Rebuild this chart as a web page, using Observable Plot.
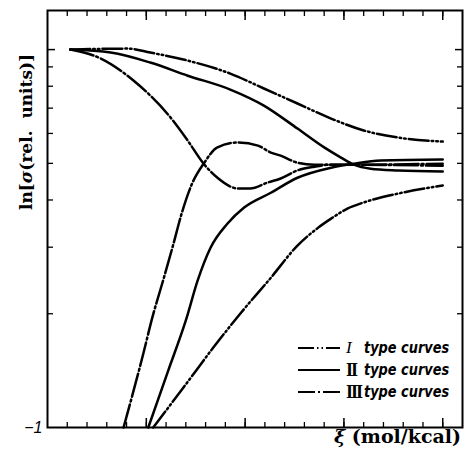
<!DOCTYPE html>
<html>
<head>
<meta charset="utf-8">
<script src="https://cdn.jsdelivr.net/npm/d3@7"></script>
<script src="https://cdn.jsdelivr.net/npm/@observablehq/plot@0.6"></script>
<style>
  body { margin: 0; background: #fff; }
  #wrap { position: relative; width: 464px; height: 453px; overflow: hidden; background: #fff; }
  #wrap svg { display: block; }
  .ylab { position: absolute; left: 26px; top: 132px; transform: translate(-50%, -50%) rotate(-90deg);
          font: bold 17px "DejaVu Serif", serif; white-space: nowrap; color: #000; }
  .xlab { position: absolute; right: 3px; top: 425px; font: bold 19px "DejaVu Serif", serif; white-space: nowrap; color: #000; }
  .legend { position: absolute; left: 298px; top: 337px; font-family: "DejaVu Sans", sans-serif; color: #000; }
  .row { display: flex; align-items: center; height: 22px; }
  .row svg { width: 42px; height: 8px; flex: none; }
  .num { font: italic 17px "Liberation Serif", serif; width: 18px; flex: none; text-align: left; margin-left: 6px; overflow: visible; }
  .num.b { font: bold 18px "Liberation Serif", serif; letter-spacing: -2px; }
  .txt { display: inline-block; font-style: italic; font-weight: bold; font-size: 15px; white-space: nowrap;
         transform: scaleX(0.86); transform-origin: left center; }
</style>
</head>
<body>
<div id="wrap"></div>
<script>
// ξ (mol/kcal) and ln σ readings (plotted on a log axis, tick units 1…10) for each curve
const typeI_upper_xi  = [0.23, 0.81, 1.04, 1.42, 1.85, 2.19, 2.53, 2.87, 3.20, 3.55, 4.0];
const typeI_upper_s   = [10.0, 10.06, 9.82, 9.35, 8.64, 7.89, 7.20, 6.57, 6.11, 5.85, 5.71];
const typeI_lower_xi  = [1.07, 1.38, 1.68, 1.95, 2.26, 2.53, 2.74, 2.87, 3.04, 3.20, 3.55, 4.0];
const typeI_lower_s   = [1.0, 1.28, 1.63, 2.00, 2.49, 3.03, 3.38, 3.57, 3.80, 3.94, 4.16, 4.37];

const typeII_upper_xi = [0.23, 0.64, 1.04, 1.42, 1.85, 2.19, 2.53, 2.80, 2.97, 3.10, 3.27, 3.55, 4.0];
const typeII_upper_s  = [10.0, 9.82, 9.24, 8.53, 7.84, 7.11, 6.18, 5.51, 5.18, 4.96, 4.84, 4.79, 4.76];
const typeII_lower_xi = [1.02, 1.22, 1.40, 1.52, 1.65, 1.82, 1.99, 2.26, 2.53, 2.87, 3.10, 3.37, 4.0];
const typeII_lower_s  = [1.0, 1.41, 1.92, 2.45, 2.99, 3.46, 3.82, 4.18, 4.58, 4.87, 4.99, 5.09, 5.12];

const typeIII_upper_xi = [0.23, 0.54, 0.87, 1.27, 1.42, 1.58, 1.72, 1.93, 2.05, 2.23, 2.36, 2.53, 2.70, 2.87, 4.0];
const typeIII_upper_s  = [10.0, 9.47, 8.28, 6.49, 5.74, 4.99, 4.58, 4.29, 4.29, 4.45, 4.56, 4.79, 4.90, 4.96, 4.93];
const typeIII_lower_xi = [0.77, 0.97, 1.06, 1.17, 1.27, 1.36, 1.46, 1.58, 1.72, 1.93, 2.13, 2.26, 2.36, 2.53, 2.70, 3.07, 4.0];
const typeIII_lower_s  = [1.0, 1.57, 1.95, 2.45, 3.03, 3.70, 4.40, 4.99, 5.51, 5.68, 5.57, 5.34, 5.24, 5.02, 4.96, 4.96, 4.99];

// axis ticks
const xMajorTicks = [1, 2, 3, 4];
const xMinorTicks = d3.range(1, 21).map(i => i / 5);
const yMinorTicks = [2, 3, 4, 5, 6, 7, 8, 9];
const yMajorTicks = [10];
const yLabelTicks = [1];
const yTickLabels = {1: "−1"};

const rows = (name, xs, ys) => xs.map((xi, i) => ({curve: name, xi, s: ys[i]}));
const curvesI   = [...rows("I-upper", typeI_upper_xi, typeI_upper_s), ...rows("I-lower", typeI_lower_xi, typeI_lower_s)];
const curvesII  = [...rows("II-upper", typeII_upper_xi, typeII_upper_s), ...rows("II-lower", typeII_lower_xi, typeII_lower_s)];
const curvesIII = [...rows("III-upper", typeIII_upper_xi, typeIII_upper_s), ...rows("III-lower", typeIII_lower_xi, typeIII_lower_s)];

const dashI = "20,3,1.6,3,1.6,3";
const dashIII = "24,3,2,3";
const legendDash = {I: "16,3,1.5,3,1.5,3", II: null, III: "17,3,2,3"};
const lineOpts = {x: "xi", y: "s", z: "curve", stroke: "#000", strokeWidth: 2.5, curve: "monotone-x"};
const blank = () => "";

const chart = Plot.plot({
  width: 464,
  height: 453,
  marginLeft: 47,
  marginRight: 2,
  marginTop: 10,
  marginBottom: 26,
  style: {background: "#fff", color: "#000"},
  x: {domain: [0, 4.2]},
  y: {type: "log", domain: [1, 12.69]},
  marks: [
    Plot.frame({stroke: "#000", strokeWidth: 2}),
    // inward ticks, bottom and top
    Plot.axisX({anchor: "bottom", ticks: xMinorTicks, tickSize: -5, tickFormat: blank, label: null, strokeWidth: 1.3}),
    Plot.axisX({anchor: "bottom", ticks: xMajorTicks, tickSize: -9, tickFormat: blank, label: null, strokeWidth: 1.5}),
    Plot.axisX({anchor: "top", ticks: xMinorTicks, tickSize: -5, tickFormat: blank, label: null, strokeWidth: 1.3}),
    Plot.axisX({anchor: "top", ticks: xMajorTicks, tickSize: -9, tickFormat: blank, label: null, strokeWidth: 1.5}),
    // inward ticks, left and right
    Plot.axisY({anchor: "left", ticks: yMinorTicks, tickSize: -6, tickFormat: blank, label: null, strokeWidth: 1.3}),
    Plot.axisY({anchor: "left", ticks: yMajorTicks, tickSize: -8, tickFormat: blank, label: null, strokeWidth: 1.5}),
    Plot.axisY({anchor: "right", ticks: yMinorTicks, tickSize: -6, tickFormat: blank, label: null, strokeWidth: 1.3}),
    Plot.axisY({anchor: "right", ticks: yMajorTicks, tickSize: -8, tickFormat: blank, label: null, strokeWidth: 1.5}),
    Plot.axisY({anchor: "left", ticks: yLabelTicks, tickSize: 0, tickPadding: 5, tickFormat: d => yTickLabels[d] ?? "",
      label: null, fontSize: 16, fontStyle: "italic", fontFamily: "Liberation Sans, sans-serif"}),
    // curves
    Plot.line(curvesI, {...lineOpts, strokeDasharray: dashI}),
    Plot.line(curvesII, {...lineOpts}),
    Plot.line(curvesIII, {...lineOpts, strokeDasharray: dashIII})
  ]
});

const wrap = document.getElementById("wrap");
wrap.appendChild(chart);

const ylab = document.createElement("div");
ylab.className = "ylab";
ylab.innerHTML = 'ln[<i>σ</i>(rel.&nbsp; units)]';
wrap.appendChild(ylab);

const xlab = document.createElement("div");
xlab.className = "xlab";
xlab.innerHTML = '<i>ξ</i> (mol/kcal)';
wrap.appendChild(xlab);

// legend
const legendItems = [
  {num: "I", bold: false},
  {num: "II", bold: true},
  {num: "III", bold: true}
];
const legend = document.createElement("div");
legend.className = "legend";
for (const it of legendItems) {
  const dash = legendDash[it.num];
  const row = document.createElement("div");
  row.className = "row";
  row.innerHTML =
    `<svg viewBox="0 0 42 8"><line x1="0" y1="4" x2="42" y2="4" stroke="#000" stroke-width="2.2"` +
    (dash ? ` stroke-dasharray="${dash}"` : "") + `/></svg>` +
    `<span class="num${it.bold ? " b" : ""}">${it.num}</span><span class="txt">type curves</span>`;
  legend.appendChild(row);
}
wrap.appendChild(legend);
</script>
</body>
</html>
